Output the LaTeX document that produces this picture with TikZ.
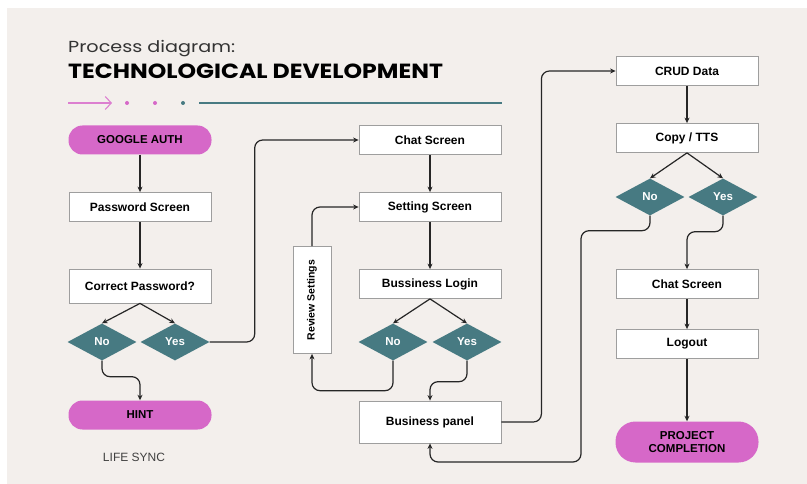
\documentclass[tikz,border=0pt]{standalone}
\usepackage{fontspec}
\setmainfont{Liberation Sans}
\newfontfamily\titlefont{Poppins}
\usetikzlibrary{arrows.meta,positioning,shapes.geometric,calc}
\definecolor{paper}{HTML}{F3EFEC}
\definecolor{orchid}{HTML}{D668C8}
\definecolor{tealdia}{HTML}{477A82}
\definecolor{edge}{HTML}{9E9E9E}
\tikzset{
  stepbox/.style={draw=edge, line width=0.8pt, fill=white, minimum width=142pt, minimum height=29pt, font=\bfseries\fontsize{12}{14}\selectfont},
  pill/.style={fill=orchid, rounded corners=14pt, minimum width=143pt, minimum height=29pt, font=\bfseries\fontsize{11.5}{13.5}\selectfont},
  choice/.style={diamond, fill=tealdia, minimum width=69pt, minimum height=37pt, inner sep=0pt, text=white, font=\bfseries\fontsize{11.5}{13}\selectfont},
  conn/.style={-{Stealth[length=5.5pt,width=5pt]}, line width=1.2pt, draw=black!85, rounded corners=8pt}
}
\begin{document}
\begin{tikzpicture}[x=1pt,y=-1pt]
\useasboundingbox (0,0) rectangle (807,484);
\fill[white] (0,0) rectangle (807,484);
\fill[paper] (7,8) rectangle (807,484);
% heading
\node[anchor=base west, inner sep=0pt, text=black!80, font=\titlefont\fontsize{16}{19}\selectfont] (sub) at (68,53) {\scalebox{1.2}[1]{Process diagram:}};
\node[anchor=base west, inner sep=0pt, font=\titlefont\bfseries\fontsize{20.5}{24}\selectfont] (title) at (68,79) {\scalebox{1.15}[1]{TECHNOLOGICAL DEVELOPMENT}};
\draw[orchid!85, line width=1.1pt, -{Straight Barb[length=6pt,width=13pt]}] (68,103) -- (112,103);
\fill[orchid] (127,103) circle (2pt);
\fill[orchid] (155,103) circle (2pt);
\fill[tealdia] (183,103) circle (2pt);
\draw[tealdia, line width=1.3pt] (199,103) -- (502,103);
% left column
\node[pill] (ga) at (140,140) {GOOGLE AUTH};
\node[stepbox] (pw) at (140,207) {Password Screen};
\node[stepbox, minimum height=34pt] (cp) at (140,286) {Correct Password?};
\node[choice] (no1) at (102,342) {No};
\node[choice] (yes1) at (175,342) {Yes};
\node[pill] (hint) at (140,415) {HINT};
\node[text=black!75, font=\fontsize{12}{14}\selectfont] (brand) at (134,457) {LIFE SYNC};
% middle column
\node[stepbox] (chat1) at (430,140) {Chat Screen};
\node[stepbox] (set) at (430,207) {Setting Screen};
\node[stepbox] (bl) at (430,284) {Bussiness Login};
\node[choice] (no2) at (393,342) {No};
\node[choice] (yes2) at (467,342) {Yes};
\node[stepbox, minimum height=42pt] (bp) at (430,422) {Business panel};
\node[stepbox, minimum width=38pt, minimum height=107pt, inner sep=0pt, font=\bfseries\fontsize{10.5}{12}\selectfont] (rev) at (312,300) {\rotatebox{90}{Review Settings}};
% right column
\node[stepbox] (crud) at (687,71) {CRUD Data};
\node[stepbox] (copy) at (687,138) {Copy / TTS};
\node[choice] (no3) at (650,197) {No};
\node[choice] (yes3) at (723,197) {Yes};
\node[stepbox] (chat2) at (687,284) {Chat Screen};
\node[stepbox] (out) at (687,344) {Logout};
\node[pill, minimum height=41pt, rounded corners=20pt, align=center] (done) at (687,442) {PROJECT\\COMPLETION};
\coordinate (low) at (581,462);
% connectors
\draw[conn] (ga) -- (pw);
\draw[conn] (pw) -- (cp);
\draw[conn] (cp.south) -- (no1.north);
\draw[conn] (cp.south) -- (yes1.north);
\draw[conn] (no1.south) -- ++(0,16) -| (hint.north);
\draw[conn] (yes1.east) -- ++(45,0) |- (chat1.west);
\draw[conn] (chat1) -- (set);
\draw[conn] (set) -- (bl);
\draw[conn] (bl.south) -- (no2.north);
\draw[conn] (bl.south) -- (yes2.north);
\draw[conn] (no2.south) -- ++(0,30) -| (rev.south);
\draw[conn] (rev.north) |- (set.west);
\draw[conn] (yes2.south) -- ++(0,21) -| (bp.north);
\draw[conn] (bp.east) -- ++(40,0) |- (crud.west);
\draw[conn] (crud) -- (copy);
\draw[conn] (copy.south) -- (no3.north);
\draw[conn] (copy.south) -- (yes3.north);
\draw[conn] (yes3.south) -- ++(0,16) -| (chat2.north);
\draw[conn] (no3.south) -- ++(0,15) -| (low) -| (bp.south);
\draw[conn] (chat2) -- (out);
\draw[conn] (out) -- (done);
\end{tikzpicture}
\end{document}
